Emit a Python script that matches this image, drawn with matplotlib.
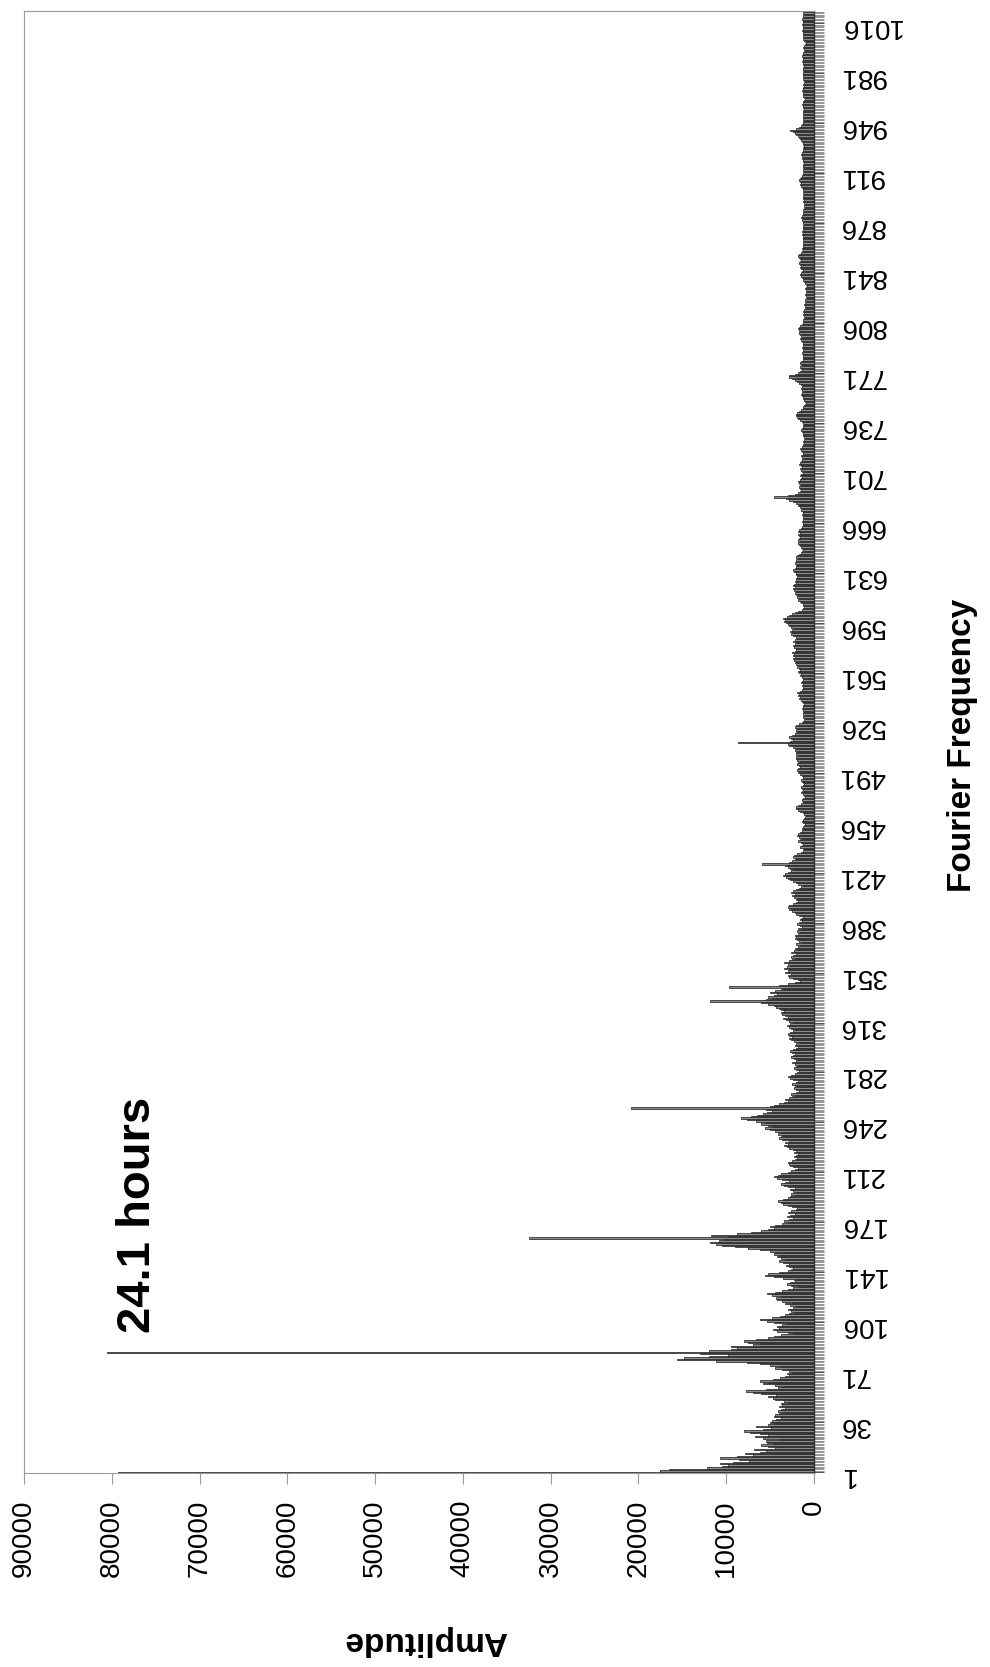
import numpy as np
import matplotlib
matplotlib.use("Agg")
import matplotlib.pyplot as plt
from matplotlib.ticker import FixedLocator, MultipleLocator

plt.rcParams['font.family'] = ['Liberation Sans', 'DejaVu Sans']

# Fourier amplitude per frequency bin, in hundreds (bins 1..1024, 32 per row)
amp_hundreds = [
    793, 175, 165, 122, 105, 98, 107, 92, 74, 85, 107, 88, 70, 79, 62, 55, 68, 44, 52, 60, 47, 53, 55, 41, 58, 67, 52, 61, 73, 80, 58, 49,
    66, 52, 45, 50, 48, 43, 38, 46, 44, 40, 35, 41, 37, 33, 40, 36, 38, 30, 34, 44, 47, 52, 43, 60, 70, 78, 55, 41, 36, 44, 58, 52,
    61, 47, 39, 33, 28, 31, 25, 29, 36, 44, 39, 50, 62, 76, 112, 156, 148, 120, 98, 130, 805, 120, 95, 88, 94, 70, 62, 75, 80, 66, 52, 45,
    38, 24, 30, 42, 47, 40, 42, 36, 31, 45, 54, 61, 48, 39, 33, 28, 22, 26, 30, 24, 20, 27, 33, 25, 36, 42, 43, 38, 48, 53, 44, 36,
    30, 24, 18, 26, 31, 27, 22, 23, 35, 46, 56, 52, 40, 30, 26, 24, 29, 32, 29, 35, 40, 33, 38, 42, 40, 45, 44, 50, 62, 75, 90, 105,
    112, 118, 108, 102, 325, 98, 117, 88, 72, 60, 52, 46, 50, 44, 36, 30, 34, 28, 24, 31, 27, 22, 30, 26, 21, 19, 25, 30, 35, 38, 41, 35,
    30, 27, 22, 26, 20, 24, 27, 22, 30, 34, 38, 33, 29, 36, 42, 45, 41, 37, 30, 26, 22, 18, 24, 27, 29, 30, 25, 22, 19, 23, 21, 18,
    23, 20, 24, 28, 31, 34, 30, 33, 28, 36, 40, 38, 35, 41, 37, 44, 50, 56, 48, 52, 60, 55, 66, 76, 83, 72, 65, 58, 53, 48, 55, 209,
    50, 45, 40, 34, 30, 33, 28, 25, 22, 26, 20, 17, 21, 23, 19, 22, 25, 20, 18, 24, 27, 30, 26, 22, 19, 17, 21, 23, 20, 18, 22, 25,
    21, 19, 23, 26, 24, 22, 25, 27, 24, 21, 18, 22, 20, 17, 23, 26, 28, 25, 29, 30, 27, 24, 22, 26, 29, 31, 27, 24, 28, 32, 35, 30,
    33, 36, 38, 34, 37, 40, 43, 46, 52, 60, 118, 55, 48, 52, 45, 42, 50, 44, 38, 35, 97, 40, 30, 22, 16, 18, 24, 28, 30, 26, 33, 30,
    28, 34, 31, 27, 30, 34, 29, 25, 22, 26, 24, 21, 26, 23, 19, 22, 18, 16, 20, 14, 17, 19, 22, 20, 22, 18, 16, 19, 15, 18, 14, 16,
    19, 17, 14, 16, 15, 13, 17, 20, 22, 25, 28, 26, 30, 28, 24, 20, 18, 21, 19, 23, 25, 22, 26, 24, 20, 17, 15, 13, 18, 21, 24, 27,
    30, 32, 35, 33, 30, 26, 24, 27, 30, 33, 59, 29, 25, 22, 21, 24, 23, 19, 15, 12, 11, 13, 16, 14, 12, 15, 18, 16, 14, 17, 19, 18,
    16, 14, 12, 14, 13, 11, 10, 12, 14, 13, 11, 10, 9, 11, 13, 16, 18, 20, 21, 18, 15, 13, 12, 14, 12, 10, 11, 13, 15, 14, 12, 14,
    15, 13, 11, 12, 14, 15, 13, 12, 14, 16, 18, 17, 19, 18, 16, 17, 19, 18, 16, 19, 21, 20, 18, 21, 20, 19, 22, 20, 24, 28, 30, 87,
    27, 24, 26, 28, 25, 22, 20, 18, 21, 19, 22, 20, 17, 14, 12, 11, 10, 12, 11, 13, 12, 11, 13, 14, 12, 13, 11, 12, 14, 15, 17, 16,
    18, 17, 19, 16, 14, 13, 12, 14, 13, 15, 14, 13, 12, 14, 16, 15, 17, 18, 16, 17, 19, 18, 20, 22, 21, 23, 24, 22, 24, 23, 25, 22,
    20, 21, 23, 24, 22, 20, 24, 22, 19, 21, 24, 26, 25, 27, 25, 23, 26, 28, 30, 32, 34, 33, 35, 31, 28, 25, 22, 18, 14, 12, 11, 12,
    13, 15, 16, 18, 17, 19, 18, 20, 22, 21, 23, 24, 22, 24, 23, 21, 22, 20, 21, 19, 18, 20, 21, 23, 24, 22, 20, 21, 19, 22, 20, 21,
    18, 20, 19, 17, 15, 14, 13, 14, 15, 16, 17, 18, 16, 18, 17, 16, 17, 18, 16, 18, 17, 15, 14, 13, 12, 13, 14, 12, 13, 12, 13, 14,
    12, 13, 15, 14, 16, 18, 17, 20, 24, 28, 32, 46, 30, 22, 18, 16, 15, 16, 17, 16, 15, 17, 18, 16, 15, 14, 16, 15, 13, 14, 15, 16,
    14, 15, 17, 16, 15, 14, 13, 14, 15, 13, 12, 14, 15, 16, 14, 13, 12, 11, 12, 11, 10, 11, 12, 13, 12, 14, 15, 14, 13, 12, 11, 12,
    14, 16, 18, 19, 20, 21, 19, 17, 15, 13, 12, 11, 10, 9, 10, 11, 12, 13, 14, 15, 14, 13, 14, 15, 14, 13, 15, 17, 19, 22, 25, 29,
    28, 22, 18, 16, 14, 15, 16, 14, 15, 16, 15, 13, 12, 13, 12, 13, 14, 13, 12, 13, 14, 13, 12, 13, 14, 15, 16, 14, 15, 16, 17, 16,
    17, 18, 17, 16, 14, 12, 11, 12, 11, 10, 11, 12, 11, 12, 11, 10, 9, 10, 11, 10, 9, 10, 9, 8, 9, 10, 9, 8, 9, 10, 9, 8,
    9, 10, 11, 12, 13, 14, 15, 16, 15, 14, 13, 15, 16, 15, 16, 17, 16, 15, 16, 17, 18, 17, 15, 14, 13, 14, 13, 12, 13, 12, 11, 12,
    13, 12, 13, 14, 13, 14, 13, 12, 13, 12, 11, 12, 13, 14, 13, 15, 14, 13, 12, 11, 12, 11, 10, 11, 10, 11, 12, 11, 12, 13, 12, 11,
    12, 11, 12, 13, 14, 15, 16, 15, 16, 17, 16, 15, 14, 13, 12, 11, 12, 11, 12, 13, 12, 11, 12, 13, 14, 13, 14, 15, 14, 13, 12, 11,
    12, 11, 12, 13, 14, 15, 16, 17, 18, 20, 22, 24, 27, 21, 17, 15, 14, 13, 12, 11, 12, 13, 12, 11, 12, 13, 12, 11, 12, 13, 14, 13,
    12, 11, 10, 11, 12, 13, 12, 13, 14, 13, 12, 11, 12, 11, 10, 11, 12, 11, 12, 13, 12, 11, 12, 13, 12, 11, 12, 13, 14, 13, 12, 13,
    14, 13, 12, 11, 10, 11, 12, 11, 10, 9, 10, 11, 12, 11, 12, 13, 12, 13, 14, 13, 12, 13, 14, 13, 12, 13, 14, 13, 12, 11, 12, 11,
]
amplitude = np.array(amp_hundreds) * 100
freq = np.arange(1, len(amplitude) + 1)
freq_ticks = list(range(1, 1017, 35))
amp_ticks = list(range(0, 90001, 10000))

fig = plt.figure(figsize=(9.9, 16.67), dpi=100)
ax = fig.add_axes([0.0242, 0.1164, 0.798, 0.877])

ax.barh(freq, amplitude, height=1.0, color='#8c8c8c', edgecolor='#262626', linewidth=0.55)

ax.set_xlim(90000, 0)
ax.set_ylim(0.5, len(amplitude) + 0.5)

ax.yaxis.tick_right()
ax.yaxis.set_major_locator(FixedLocator(freq_ticks))
ax.yaxis.set_minor_locator(MultipleLocator(1))
ax.set_yticklabels([str(t) for t in freq_ticks], rotation=180, fontsize=20)
ax.tick_params(axis='y', which='major', direction='out', length=7, width=0.6, color='#333333', pad=11)
ax.tick_params(axis='y', which='minor', direction='out', length=7, width=0.4, color='#444444')

ax.xaxis.set_major_locator(FixedLocator(amp_ticks))
ax.set_xticklabels([str(t) for t in amp_ticks], rotation=90, fontsize=20)
ax.tick_params(axis='x', direction='out', length=8, width=0.8, color='#999999', pad=11)

for side in ['left', 'top', 'bottom']:
    ax.spines[side].set_color('#9a9a9a')
    ax.spines[side].set_linewidth(0.8)
ax.spines['right'].set_color('#333333')
ax.spines['right'].set_linewidth(1.0)

ax.text(77000, 181, '24.1 hours', rotation=90, ha='center', va='center',
        fontsize=34, fontweight='bold')

fig.text(962 / 990, 1 - 745 / 1667, 'Fourier Frequency', rotation=90,
         ha='center', va='center', fontsize=24, fontweight='bold')
fig.text(425 / 990, 1 - 1640 / 1667, 'Amplitude', rotation=180,
         ha='center', va='center', fontsize=24, fontweight='bold')

fig.savefig('out.png', dpi=100)
